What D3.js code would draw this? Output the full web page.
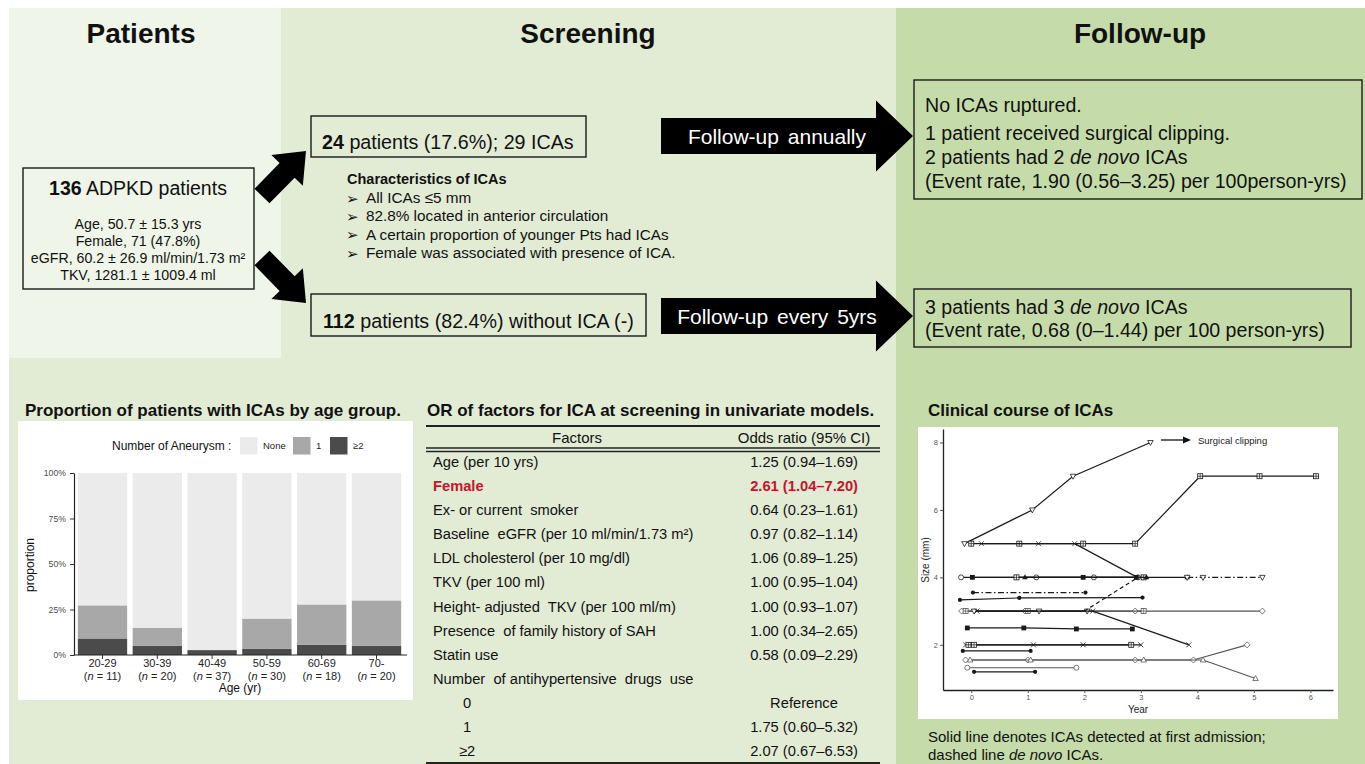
<!DOCTYPE html>
<html><head><meta charset="utf-8">
<script src="https://cdn.jsdelivr.net/npm/d3@7"></script>
<style>
body{margin:0;background:#fff}
svg{display:block}
text{font-family:"Liberation Sans",Arial,Helvetica,sans-serif}
</style>
</head><body>
<svg id="c" width="1365" height="764"></svg>
<script>
// ---------------- DATA ----------------
const sectionTitles = ["Patients", "Screening", "Follow-up"];
const patientStats = ["Age, 50.7 \u00b1 15.3 yrs", "Female, 71 (47.8%)", "eGFR, 60.2 \u00b1 26.9 ml/min/1.73 m\u00b2", "TKV, 1281.1 \u00b1 1009.4 ml"];
const icaCharacteristics = ["All ICAs \u22645 mm", "82.8% located in anterior circulation", "A certain proportion of younger Pts had ICAs", "Female was associated with presence of ICA."];
const followUpAnnual = ["No ICAs ruptured.", "1 patient received surgical clipping.", "2 patients had 2 |de novo| ICAs", "(Event rate, 1.90 (0.56\u20133.25) per 100person-yrs)"];
const followUpFive = ["3 patients had 3 |de novo| ICAs", "(Event rate, 0.68 (0\u20131.44) per 100 person-yrs)"];

// bar chart: proportion of patients with ICAs by age group
const ageGroups = ["20-29", "30-39", "40-49", "50-59", "60-69", "70-"];
const groupN = [11, 20, 37, 30, 18, 20];
const patientsOne = [2, 2, 0, 5, 4, 5];
const patientsTwoPlus = [1, 1, 1, 1, 1, 1];
const aneurysmLevels = ["None", "1", "\u22652"];
const propTicks = [0, 0.25, 0.5, 0.75, 1];
const propTickLabels = ["0%", "25%", "50%", "75%", "100%"];

// table: OR of factors
const factors = ["Age (per 10 yrs)", "Female", "Ex- or current  smoker", "Baseline  eGFR (per 10 ml/min/1.73 m\u00b2)", "LDL cholesterol (per 10 mg/dl)", "TKV (per 100 ml)", "Height- adjusted  TKV (per 100 ml/m)", "Presence  of family history of SAH", "Statin use", "Number  of antihypertensive  drugs  use", "0", "1", "\u22652"];
const oddsRatios = ["1.25 (0.94\u20131.69)", "2.61 (1.04\u20137.20)", "0.64 (0.23\u20131.61)", "0.97 (0.82\u20131.14)", "1.06 (0.89\u20131.25)", "1.00 (0.95\u20131.04)", "1.00 (0.93\u20131.07)", "1.00 (0.34\u20132.65)", "0.58 (0.09\u20132.29)", "", "Reference", "1.75 (0.60\u20135.32)", "2.07 (0.67\u20136.53)"];
const factorIsSub = [false, false, false, false, false, false, false, false, false, false, true, true, true];
const factorSignificant = [false, true, false, false, false, false, false, false, false, false, false, false, false];

// clinical course: [year, size mm] per ICA
const yearTicks = [0, 1, 2, 3, 4, 5, 6];
const sizeTicks = [2, 4, 6, 8];
const icaTracks = [
  [[-0.12, 5], [1.08, 6], [1.8, 7], [3.17, 8]],
  [[0, 5], [0.85, 5], [1.98, 5], [2.9, 5], [4.05, 7], [5.1, 7], [6.1, 7]],
  [[0.18, 5], [1.19, 5], [1.83, 5], [2.94, 4]],
  [[-0.18, 4], [1.15, 4], [2.17, 4], [2.95, 4]],
  [[0.02, 4], [1.98, 4], [2.92, 4]],
  [[0.8, 4], [3.05, 4]],
  [[0.95, 4], [3.1, 4], [3.82, 4]],
  [[3.82, 4], [4.1, 4], [5.15, 4]],
  [[0.03, 3.55], [2.02, 3.55]],
  [[-0.2, 3.33], [0.85, 3.39], [3.03, 3.4]],
  [[-0.17, 3], [0.95, 3], [2.9, 3], [5.15, 3]],
  [[-0.1, 3], [1.0, 3], [3.05, 3]],
  [[0.05, 3], [1.2, 3], [2.05, 3]],
  [[0.1, 3], [2.15, 3], [3.85, 2]],
  [[2.0, 3], [2.95, 4]],
  [[-0.07, 2.5], [0.93, 2.5], [1.86, 2.47], [2.85, 2.47]],
  [[-0.1, 2], [1.1, 2], [1.98, 2], [3.0, 2]],
  [[-0.05, 2], [0.05, 2], [2.83, 2]],
  [[-0.15, 1.82], [1.05, 1.82]],
  [[-0.1, 1.55], [1.0, 1.55], [2.9, 1.55], [3.93, 1.55], [4.88, 2.0]],
  [[-0.02, 1.55], [1.05, 1.55], [3.05, 1.55], [4.1, 1.55], [5.03, 1.0]],
  [[-0.07, 1.32], [1.86, 1.32]],
  [[0.05, 1.2], [1.13, 1.2]]
];
const trackShape = ["triDown", "sqPlus", "asterisk", "circle", "sqFill", "sqPlus", "triFill", "triDown", "dot", "dot", "diamond", "sqPlus", "triDown", "cross", "none", "sqFill", "cross", "sqPlus", "dot", "diamond", "tri", "circle", "dot"];
const trackLine = ["solid", "solid", "solid", "solid", "solid", "solid", "solid", "dashdot", "dashdot", "solid", "solid", "solid", "solid", "solid", "dashed", "solid", "solid", "solid", "solid", "solid", "solid", "solid", "solid"];
const trackTone = ["k", "k", "k", "k", "k", "k", "k", "k", "k", "k", "g", "g", "k", "k", "k", "k", "k", "k", "k", "g", "g", "g", "k"];

// ---------------- DRAW ----------------
const svg = d3.select("#c");
const BG_SCREEN = "#e2ecd5", BG_PAT = "#eff5e8", BG_FU = "#c5dcaa";

svg.append("rect").attr("width", 1365).attr("height", 764).attr("fill", "#fff");
svg.append("rect").attr("x", 9).attr("y", 8).attr("width", 887).attr("height", 756).attr("fill", BG_SCREEN);
svg.append("rect").attr("x", 9).attr("y", 8).attr("width", 272).attr("height", 350).attr("fill", BG_PAT);
svg.append("rect").attr("x", 896).attr("y", 8).attr("width", 469).attr("height", 756).attr("fill", BG_FU);

// section titles
const titleX = [141, 588, 1140];
svg.selectAll("text.sec").data(sectionTitles).enter().append("text")
  .attr("class", "sec").attr("x", (d, i) => titleX[i]).attr("y", 43)
  .attr("text-anchor", "middle").attr("font-size", 28).attr("font-weight", "bold").attr("fill", "#111").text(d => d);

function box(x, y, w, h) {
  svg.append("rect").attr("x", x).attr("y", y).attr("width", w).attr("height", h)
    .attr("fill", "none").attr("stroke", "#1a1a1a").attr("stroke-width", 1.4);
}
// rich text: segments split by '|' alternate normal / italic
function richLine(sel, str) {
  const parts = str.split("|");
  parts.forEach((p, i) => {
    const t = sel.append("tspan").text(p);
    if (i % 2 === 1) t.attr("font-style", "italic");
  });
}

// Patients box
box(23, 168, 231, 121);
const t136 = svg.append("text").attr("x", 138).attr("y", 195).attr("text-anchor", "middle").attr("font-size", 19.5).attr("fill", "#111");
t136.append("tspan").attr("font-weight", "bold").text("136");
t136.append("tspan").text(" ADPKD  patients");
svg.selectAll("text.pstat").data(patientStats).enter().append("text")
  .attr("class", "pstat").attr("x", 138).attr("y", (d, i) => 229 + i * 17)
  .attr("text-anchor", "middle").attr("font-size", 14.2).attr("fill", "#111").text(d => d);

// diagonal block arrows
function blockArrow(tx, ty, hx, hy, sw, hw, hl) {
  const L = Math.hypot(hx - tx, hy - ty), ang = Math.atan2(hy - ty, hx - tx) * 180 / Math.PI;
  const pts = [[0, -sw / 2], [L - hl, -sw / 2], [L - hl, -hw / 2], [L, 0], [L - hl, hw / 2], [L - hl, sw / 2], [0, sw / 2]];
  svg.append("path").attr("d", d3.line()(pts) + "Z").attr("fill", "#000")
    .attr("transform", `translate(${tx},${ty}) rotate(${ang})`);
}
blockArrow(262, 196, 306, 151, 21, 44, 27);
blockArrow(262, 258, 306, 303, 21, 44, 27);

// screening boxes
box(311, 116, 275, 41);
const t24 = svg.append("text").attr("x", 322).attr("y", 149).attr("font-size", 19.7).attr("fill", "#111");
t24.append("tspan").attr("font-weight", "bold").text("24");
t24.append("tspan").text(" patients (17.6%); 29 ICAs");

box(311, 294, 335, 42);
const t112 = svg.append("text").attr("x", 323).attr("y", 328).attr("font-size", 19.7).attr("fill", "#111");
t112.append("tspan").attr("font-weight", "bold").text("112");
t112.append("tspan").text(" patients (82.4%) without ICA (-)");

svg.append("text").attr("x", 347).attr("y", 184).attr("font-size", 14.5).attr("font-weight", "bold").attr("fill", "#111").text("Characteristics of ICAs");
const bl = svg.selectAll("g.bul").data(icaCharacteristics).enter().append("g").attr("class", "bul");
bl.append("text").attr("x", 346).attr("y", (d, i) => 203.5 + i * 18.4).attr("font-size", 15).attr("fill", "#111")
  .style("font-family", "'DejaVu Sans',sans-serif").text("\u27a2");
bl.append("text").attr("x", 366).attr("y", (d, i) => 203 + i * 18.4).attr("font-size", 15.3).attr("fill", "#111").text(d => d);

// horizontal block arrows with labels
function hArrow(x0, x1, xt, cy, bh, hh, label) {
  const pts = [[x0, cy - bh / 2], [x1, cy - bh / 2], [x1, cy - hh / 2], [xt, cy], [x1, cy + hh / 2], [x1, cy + bh / 2], [x0, cy + bh / 2]];
  svg.append("path").attr("d", d3.line()(pts) + "Z").attr("fill", "#000");
  svg.append("text").attr("x", 777).attr("y", cy + 7.5).attr("text-anchor", "middle").attr("font-size", 21)
    .attr("fill", "#fff").attr("word-spacing", 3).text(label);
}
hArrow(661, 876, 913, 136, 36, 71, "Follow-up annually");
hArrow(661, 876, 913, 316, 36, 71, "Follow-up every 5yrs");

// follow-up boxes
box(914, 80, 448, 119);
const fuY1 = [112, 140, 164, 188];
followUpAnnual.forEach((s, i) => {
  const t = svg.append("text").attr("x", 925).attr("y", fuY1[i]).attr("font-size", 19.6).attr("fill", "#111");
  richLine(t, s);
});
box(914, 289, 437, 58);
followUpFive.forEach((s, i) => {
  const t = svg.append("text").attr("x", 925).attr("y", 314 + i * 23).attr("font-size", 19.6).attr("fill", "#111");
  richLine(t, s);
});

// ---------------- BAR CHART ----------------
svg.append("text").attr("x", 25).attr("y", 416).attr("font-size", 17).attr("font-weight", "bold").attr("fill", "#111")
  .text("Proportion of patients with ICAs by age group.");
svg.append("rect").attr("x", 18).attr("y", 421).attr("width", 395).attr("height", 279).attr("fill", "#fff");

const barColors = { none: "#ebebeb", one: "#a8a8a8", two: "#4b4b4b" };
const barData = ageGroups.map((g, i) => ({
  group: g,
  two: patientsTwoPlus[i] / groupN[i],
  one: patientsOne[i] / groupN[i],
  none: (groupN[i] - patientsOne[i] - patientsTwoPlus[i]) / groupN[i]
}));
const stack = d3.stack().keys(["two", "one", "none"])(barData);
const xb = d3.scaleBand().domain(ageGroups).range([74, 405]).paddingInner(0.1).paddingOuter(0.07);
const yb = d3.scaleLinear().domain([0, 1]).range([655, 473]);
const bc = svg.append("g");
bc.selectAll("g.layer").data(stack).enter().append("g").attr("fill", d => barColors[d.key])
  .selectAll("rect").data(d => d).enter().append("rect")
  .attr("x", d => xb(d.data.group)).attr("width", xb.bandwidth())
  .attr("y", d => yb(d[1])).attr("height", d => yb(d[0]) - yb(d[1]));

const yAxB = bc.append("g").attr("transform", "translate(74,0)")
  .call(d3.axisLeft(yb).tickValues(propTicks).tickFormat((d, i) => propTickLabels[i]).tickSize(4).tickSizeOuter(0).tickPadding(4));
yAxB.select(".domain").attr("stroke", "#222").attr("stroke-width", 1.2);
yAxB.selectAll(".tick line").attr("stroke", "#333");
yAxB.selectAll(".tick text").attr("font-size", 8.7).attr("fill", "#4d4d4d").style("font-family", "'Liberation Sans',Arial,sans-serif");

const xAxB = bc.append("g").attr("transform", "translate(0,655)")
  .call(d3.axisBottom(xb).tickSize(4).tickSizeOuter(0));
xAxB.select(".domain").remove();
bc.append("line").attr("x1", 74).attr("x2", 407).attr("y1", 655).attr("y2", 655).attr("stroke", "#222").attr("stroke-width", 1.2);
xAxB.selectAll(".tick line").attr("stroke", "#333");
xAxB.selectAll(".tick text").each(function (d, i) {
  const t = d3.select(this).text(null).attr("y", 0).attr("dy", null)
    .attr("font-size", 11).attr("fill", "#222").style("font-family", "'Liberation Sans',Arial,sans-serif");
  t.append("tspan").attr("x", 0).attr("y", 12).text(d);
  const t2 = t.append("tspan").attr("x", 0).attr("y", 25);
  t2.append("tspan").text("(");
  t2.append("tspan").attr("font-style", "italic").text("n");
  t2.append("tspan").text(" = " + groupN[i] + ")");
});
bc.append("text").attr("x", 240).attr("y", 692).attr("text-anchor", "middle").attr("font-size", 12).attr("fill", "#111").text("Age (yr)");
bc.append("text").attr("transform", "translate(34,565) rotate(-90)").attr("text-anchor", "middle").attr("font-size", 12).attr("fill", "#111").text("proportion");

// legend
bc.append("text").attr("x", 112).attr("y", 450).attr("font-size", 12).attr("fill", "#111").text("Number of Aneurysm :");
const legX = [240, 293, 330];
const legKeys = ["none", "one", "two"];
aneurysmLevels.forEach((lv, i) => {
  bc.append("rect").attr("x", legX[i]).attr("y", 437).attr("width", 17.5).attr("height", 17.5).attr("fill", barColors[legKeys[i]]);
  bc.append("text").attr("x", legX[i] + 23).attr("y", 449).attr("font-size", 9.5).attr("fill", "#222").text(lv);
});

// ---------------- TABLE ----------------
svg.append("text").attr("x", 427).attr("y", 416).attr("font-size", 17).attr("font-weight", "bold").attr("fill", "#111")
  .text("OR of factors for ICA at screening in univariate models.");
const tb = svg.append("g");
const rule = (y, w) => tb.append("line").attr("x1", 426).attr("x2", 880).attr("y1", y).attr("y2", y).attr("stroke", "#222").attr("stroke-width", w);
rule(426, 2); rule(448, 1.3); rule(451.5, 1.3); rule(763, 2);
tb.append("text").attr("x", 577).attr("y", 443).attr("text-anchor", "middle").attr("font-size", 15).attr("fill", "#111").text("Factors");
tb.append("text").attr("x", 804).attr("y", 443).attr("text-anchor", "middle").attr("font-size", 15).attr("fill", "#111").text("Odds ratio (95% CI)");
const rowY = d3.scaleLinear().domain([0, factors.length - 1]).range([467, 756]);
factors.forEach((f, i) => {
  const sig = factorSignificant[i];
  const col = sig ? "#c4142e" : "#111";
  tb.append("text").attr("x", factorIsSub[i] ? 467 : 433).attr("y", rowY(i))
    .attr("text-anchor", factorIsSub[i] ? "middle" : "start")
    .attr("font-size", 14.7).attr("fill", col).attr("font-weight", sig ? "bold" : null)
    .style("white-space", "pre").text(f);
  const v = oddsRatios[i];
  if (v) {
    const isRef = v === "Reference";
    tb.append("text").attr("x", isRef ? 804 : 858).attr("y", rowY(i))
      .attr("text-anchor", isRef ? "middle" : "end")
      .attr("font-size", 14.7).attr("fill", col).attr("font-weight", sig ? "bold" : null).text(v);
  }
});

// ---------------- CLINICAL COURSE ----------------
svg.append("text").attr("x", 928).attr("y", 416).attr("font-size", 17).attr("font-weight", "bold").attr("fill", "#111")
  .text("Clinical course of ICAs");
svg.append("rect").attr("x", 918).attr("y", 427).attr("width", 420).attr("height", 292).attr("fill", "#fff");
const cc = svg.append("g");
const xc = d3.scaleLinear().domain([-0.5, 6.4]).range([943, 1333]);
const yc = d3.scaleLinear().domain([0.66, 8.4]).range([690, 429]);

const yAxC = cc.append("g").attr("transform", "translate(943,0)")
  .call(d3.axisLeft(yc).tickValues(sizeTicks).tickFormat(d3.format("d")).tickSize(3).tickSizeOuter(0).tickPadding(2));
const xAxC = cc.append("g").attr("transform", "translate(0,690)")
  .call(d3.axisBottom(xc).tickValues(yearTicks).tickFormat(d3.format("d")).tickSize(3).tickSizeOuter(0).tickPadding(2));
[yAxC, xAxC].forEach(a => {
  a.select(".domain").attr("stroke", "#222").attr("stroke-width", 1.3);
  a.selectAll(".tick line").attr("stroke", "#555");
  a.selectAll(".tick text").attr("font-size", 7.5).attr("fill", "#555").style("font-family", "'Liberation Sans',Arial,sans-serif");
});
cc.append("text").attr("x", 1138).attr("y", 713).attr("text-anchor", "middle").attr("font-size", 10).attr("fill", "#222").text("Year");
cc.append("text").attr("transform", "translate(929,560) rotate(-90)").attr("text-anchor", "middle").attr("font-size", 10).attr("fill", "#222").text("Size (mm)");

const dashes = { solid: null, dashed: "4,3", dashdot: "6,2.5,1.5,2.5" };
const lineGen = d3.line().x(d => xc(d[0])).y(d => yc(d[1]));
icaTracks.forEach((pts, i) => {
  const col = trackTone[i] === "g" ? "#555" : "#1a1a1a";
  cc.append("path").attr("d", lineGen(pts)).attr("fill", "none").attr("stroke", col)
    .attr("stroke-width", 1.2).attr("stroke-dasharray", dashes[trackLine[i]]);
  pts.forEach(p => drawMarker(cc, trackShape[i], xc(p[0]), yc(p[1]), col));
});

function drawMarker(g, shape, x, y, col) {
  const s = 2.5;
  const open = { fill: "#fff", stroke: col, "stroke-width": 0.8 };
  const apply = (el, o) => { Object.entries(o).forEach(([k, v]) => el.attr(k, v)); return el; };
  switch (shape) {
    case "circle": apply(g.append("circle").attr("cx", x).attr("cy", y).attr("r", s), open); break;
    case "dot": g.append("circle").attr("cx", x).attr("cy", y).attr("r", 2.1).attr("fill", col); break;
    case "sqFill": g.append("rect").attr("x", x - 2.4).attr("y", y - 2.4).attr("width", 4.8).attr("height", 4.8).attr("fill", col); break;
    case "sqPlus":
      apply(g.append("rect").attr("x", x - s).attr("y", y - s).attr("width", 2 * s).attr("height", 2 * s), open);
      g.append("path").attr("d", `M${x - s},${y}H${x + s}M${x},${y - s}V${y + s}`).attr("stroke", col).attr("stroke-width", 0.7);
      break;
    case "tri": apply(g.append("path").attr("d", `M${x},${y - s * 1.2}L${x + s * 1.1},${y + s * 0.8}L${x - s * 1.1},${y + s * 0.8}Z`), open); break;
    case "triDown": apply(g.append("path").attr("d", `M${x},${y + s * 1.2}L${x + s * 1.1},${y - s * 0.8}L${x - s * 1.1},${y - s * 0.8}Z`), open); break;
    case "triFill": g.append("path").attr("d", `M${x},${y - s * 1.2}L${x + s * 1.1},${y + s * 0.8}L${x - s * 1.1},${y + s * 0.8}Z`).attr("fill", col); break;
    case "diamond": apply(g.append("path").attr("d", `M${x},${y - s * 1.2}L${x + s * 1.2},${y}L${x},${y + s * 1.2}L${x - s * 1.2},${y}Z`), open); break;
    case "cross": g.append("path").attr("d", `M${x - s},${y - s}L${x + s},${y + s}M${x - s},${y + s}L${x + s},${y - s}`).attr("stroke", col).attr("stroke-width", 0.8); break;
    case "asterisk": g.append("path").attr("d", `M${x - s},${y - s}L${x + s},${y + s}M${x - s},${y + s}L${x + s},${y - s}M${x - s},${y}H${x + s}`).attr("stroke", col).attr("stroke-width", 0.7); break;
    default: break;
  }
}

// legend: surgical clipping
cc.append("line").attr("x1", 1161).attr("x2", 1184).attr("y1", 440).attr("y2", 440).attr("stroke", "#111").attr("stroke-width", 1.3);
cc.append("path").attr("d", "M1191,440L1183,436.5L1183,443.5Z").attr("fill", "#111");
cc.append("text").attr("x", 1198).attr("y", 443.5).attr("font-size", 9.5).attr("fill", "#222").text("Surgical clipping");

// caption
svg.append("text").attr("x", 928).attr("y", 742).attr("font-size", 15).attr("fill", "#111").text("Solid line denotes ICAs detected at first admission;");
const cap2 = svg.append("text").attr("x", 928).attr("y", 760).attr("font-size", 15).attr("fill", "#111");
richLine(cap2, "dashed line |de novo| ICAs.");
</script>
</body></html>
